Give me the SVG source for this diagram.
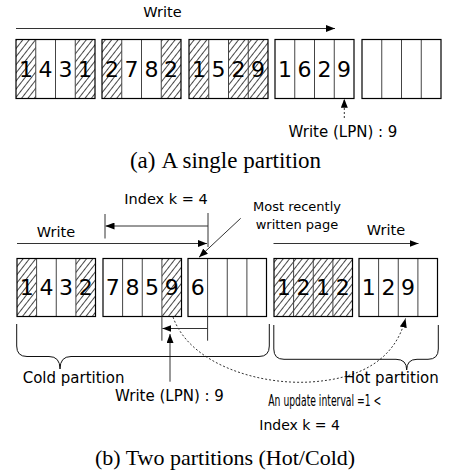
<svg xmlns="http://www.w3.org/2000/svg" width="452" height="473" viewBox="0 0 452 473">
  <style>
    .blk { fill: none; stroke: #000; stroke-width: 1.2; }
    .div { stroke: #444; stroke-width: 1; }
    .hatch { fill: url(#hatch); stroke: none; }
    .num { font-family: "DejaVu Sans", Verdana, sans-serif; font-size: 22px; fill: #000; text-anchor: middle; }
    .lbl { font-family: "DejaVu Sans", Verdana, sans-serif; fill: #000; }
    .cap { font-family: "Liberation Serif", "Times New Roman", serif; font-size: 22px; fill: #000; text-anchor: middle; }
    .arr { fill: none; stroke: #333; stroke-width: 1; marker-end: url(#head); }
    .dot { fill: none; stroke: #333; stroke-width: 1; stroke-dasharray: 2 2; marker-end: url(#head); }
    .tick { fill: none; stroke: #333; stroke-width: 1; }
    .brace { fill: none; stroke: #111; stroke-width: 1; }
  </style>
  <defs>
    <pattern id="hatch" patternUnits="userSpaceOnUse" width="5" height="10" patternTransform="rotate(38)">
      <line x1="2.5" y1="0" x2="2.5" y2="10" stroke="#333" stroke-width="0.9"/>
    </pattern>
    <marker id="head" markerUnits="userSpaceOnUse" markerWidth="9" markerHeight="7" refX="9" refY="3.5" orient="auto">
      <path d="M0,0 L9,3.5 L0,7 z" fill="#000"/>
    </marker>
  </defs>

  <rect width="452" height="473" fill="#fff"/>

  <!-- (a) single partition: five blocks of four pages -->
  <g id="a-block1">
    <rect class="hatch" x="16" y="39.5" width="19.75" height="59"/>
    <rect class="hatch" x="75.25" y="39.5" width="19.75" height="59"/>
    <path class="div" d="M35.75,39.5V98.5M55.5,39.5V98.5M75.25,39.5V98.5"/>
    <rect class="blk" x="16" y="39.5" width="79" height="59"/>
    <text class="num" x="25.9" y="77">1</text><text class="num" x="45.6" y="77">4</text>
    <text class="num" x="65.4" y="77">3</text><text class="num" x="85.1" y="77">1</text>
  </g>
  <g id="a-block2">
    <rect class="hatch" x="102" y="39.5" width="19.75" height="59"/>
    <rect class="hatch" x="161.25" y="39.5" width="19.75" height="59"/>
    <path class="div" d="M121.75,39.5V98.5M141.5,39.5V98.5M161.25,39.5V98.5"/>
    <rect class="blk" x="102" y="39.5" width="79" height="59"/>
    <text class="num" x="111.9" y="77">2</text><text class="num" x="131.6" y="77">7</text>
    <text class="num" x="151.4" y="77">8</text><text class="num" x="171.1" y="77">2</text>
  </g>
  <g id="a-block3">
    <rect class="hatch" x="189" y="39.5" width="19.75" height="59"/>
    <rect class="hatch" x="228.5" y="39.5" width="39.5" height="59"/>
    <path class="div" d="M208.75,39.5V98.5M228.5,39.5V98.5M248.25,39.5V98.5"/>
    <rect class="blk" x="189" y="39.5" width="79" height="59"/>
    <text class="num" x="198.9" y="77">1</text><text class="num" x="218.6" y="77">5</text>
    <text class="num" x="238.4" y="77">2</text><text class="num" x="258.1" y="77">9</text>
  </g>
  <g id="a-block4">
    <path class="div" d="M294.75,39.5V98.5M314.5,39.5V98.5M334.25,39.5V98.5"/>
    <rect class="blk" x="275" y="39.5" width="79" height="59"/>
    <text class="num" x="284.9" y="77">1</text><text class="num" x="304.6" y="77">6</text>
    <text class="num" x="324.4" y="77">2</text><text class="num" x="344.1" y="77">9</text>
  </g>
  <g id="a-block5">
    <path class="div" d="M381.75,39.5V98.5M401.5,39.5V98.5M421.25,39.5V98.5"/>
    <rect class="blk" x="362" y="39.5" width="79" height="59"/>
  </g>

  <!-- (b) two partitions -->
  <g id="b-block1">
    <rect class="hatch" x="17" y="258.5" width="19.6" height="58"/>
    <rect class="hatch" x="75.9" y="258.5" width="19.6" height="58"/>
    <path class="div" d="M36.6,258.5V316.5M56.25,258.5V316.5M75.9,258.5V316.5"/>
    <rect class="blk" x="17" y="258.5" width="78.5" height="58"/>
    <text class="num" x="26.8" y="295">1</text><text class="num" x="46.4" y="295">4</text>
    <text class="num" x="66.1" y="295">3</text><text class="num" x="85.7" y="295">2</text>
  </g>
  <g id="b-block2">
    <rect class="hatch" x="161.9" y="258.5" width="19.6" height="58"/>
    <path class="div" d="M122.6,258.5V316.5M142.25,258.5V316.5M161.9,258.5V316.5"/>
    <rect class="blk" x="103" y="258.5" width="78.5" height="58"/>
    <text class="num" x="112.8" y="295">7</text><text class="num" x="132.4" y="295">8</text>
    <text class="num" x="152.1" y="295">5</text><text class="num" x="171.7" y="295">9</text>
  </g>
  <g id="b-block3">
    <path class="div" d="M207.6,258.5V316.5M227.25,258.5V316.5M246.9,258.5V316.5"/>
    <rect class="blk" x="188" y="258.5" width="78.5" height="58"/>
    <text class="num" x="197.8" y="295">6</text>
  </g>
  <g id="b-block4">
    <rect class="hatch" x="274" y="258.5" width="78.5" height="58"/>
    <path class="div" d="M293.6,258.5V316.5M313.25,258.5V316.5M332.9,258.5V316.5"/>
    <rect class="blk" x="274" y="258.5" width="78.5" height="58"/>
    <text class="num" x="283.8" y="295">1</text><text class="num" x="303.4" y="295">2</text>
    <text class="num" x="323.1" y="295">1</text><text class="num" x="342.7" y="295">2</text>
  </g>
  <g id="b-block5">
    <path class="div" d="M378.6,258.5V316.5M398.25,258.5V316.5M417.9,258.5V316.5"/>
    <rect class="blk" x="359" y="258.5" width="78.5" height="58"/>
    <text class="num" x="368.8" y="295">1</text><text class="num" x="388.4" y="295">2</text>
    <text class="num" x="408.1" y="295">9</text>
  </g>

  <!-- connectors -->
  <g id="connectors">
    <path class="arr" d="M16,28.5H335"/>
    <path class="dot" d="M344.3,118V98.8"/>
    <path class="arr" d="M17,243.5H207"/>
    <path class="arr" d="M273.5,243.5H418.5"/>
    <path class="arr" d="M208,226H105.5"/>
    <path class="tick" d="M105,214V238.5M208,213V247"/>
    <path class="arr" d="M240.7,218.3L199,257.3"/>
    <path class="arr" d="M207.6,328.5H162.4"/>
    <path class="tick" d="M161.9,316.5V340.7M207.6,316.5V340.7"/>
    <path class="arr" d="M170,381.7V334"/>
    <path class="dot" d="M173,317C190,365 260,385 310,382C360,379 395,360 405.5,318.5"/>
  </g>

  <!-- partition braces -->
  <g id="cold-brace">
    <path class="brace" d="M16.7,324V346Q16.7,356.5 27,356.5H49Q60,356.5 60,369Q60,356.5 71,356.5H259Q269.3,356.5 269.3,346V324"/>
  </g>
  <g id="hot-brace">
    <path class="brace" d="M273.8,325V349Q273.8,359.3 284,359.3H396Q406.7,359.3 406.7,370Q406.7,359.3 417,359.3H428Q438.3,359.3 438.3,349V325"/>
  </g>

  <!-- labels -->
  <g id="labels">
    <text class="lbl" x="162.5" y="16.7" font-size="14.5" text-anchor="middle">Write</text>
    <text class="lbl" x="343" y="136.5" font-size="15" text-anchor="middle">Write (LPN) : 9</text>
    <text class="cap" x="225.5" y="168" font-size="23px" style="font-size:23px">(a)<tspan dx="6">A single partition</tspan></text>
    <text class="lbl" x="166" y="204" font-size="14.5" text-anchor="middle">Index k = 4</text>
    <text class="lbl" x="56" y="236.7" font-size="14.5" text-anchor="middle">Write</text>
    <text class="lbl" x="297" y="211" font-size="13" text-anchor="middle">Most recently</text>
    <text class="lbl" x="297" y="228.5" font-size="13" text-anchor="middle">written page</text>
    <text class="lbl" x="386" y="235" font-size="14.5" text-anchor="middle">Write</text>
    <text class="lbl" x="22.7" y="383.3" font-size="15">Cold partition</text>
    <text class="lbl" x="344" y="383.3" font-size="15">Hot partition</text>
    <text class="lbl" x="169.5" y="401" font-size="15" text-anchor="middle">Write (LPN) : 9</text>
    <text class="lbl" x="268.3" y="406" font-size="15" textLength="113" lengthAdjust="spacingAndGlyphs">An update interval =1 &lt;</text>
    <text class="lbl" x="259.3" y="430" font-size="14">Index k = 4</text>
    <text class="cap" x="225" y="465">(b) Two partitions (Hot/Cold)</text>
  </g>
</svg>
